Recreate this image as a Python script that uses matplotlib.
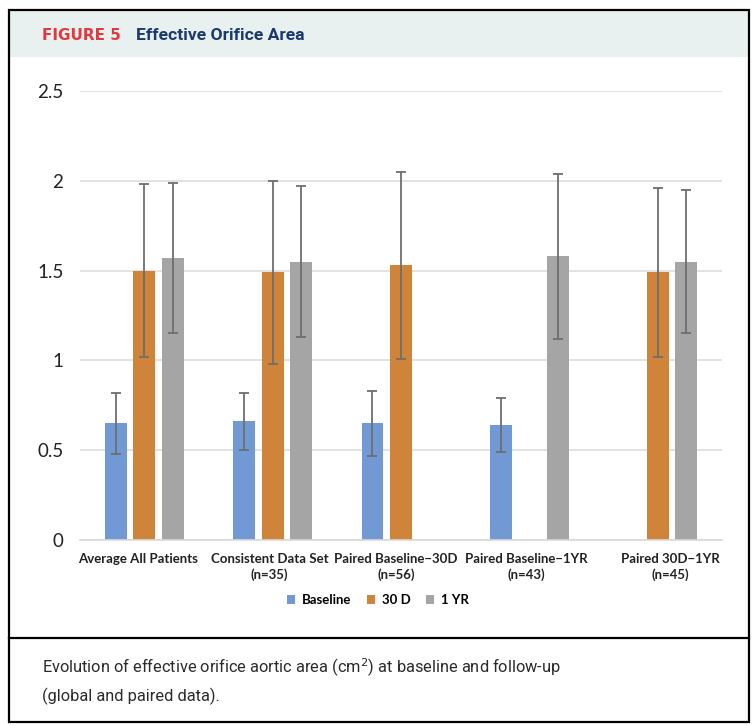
import numpy as np
import matplotlib.pyplot as plt
import matplotlib.transforms as mtransforms
from matplotlib.patches import Rectangle
from matplotlib.lines import Line2D

# Data
groups = ['Average All Patients', 'Consistent Data Set\n(n=35)', 'Paired Baseline\u221230D\n(n=56)',
          'Paired Baseline\u22121YR\n(n=43)', 'Paired 30D\u22121YR\n(n=45)']
series = ['Baseline', '30 D', '1 YR']
baseline = [0.65, 0.66, 0.65, 0.64, np.nan]
baseline_lo = [0.48, 0.50, 0.47, 0.49, np.nan]
baseline_hi = [0.82, 0.82, 0.83, 0.79, np.nan]
d30 = [1.50, 1.49, 1.53, np.nan, 1.49]
d30_lo = [1.02, 0.98, 1.01, np.nan, 1.02]
d30_hi = [1.98, 2.00, 2.05, np.nan, 1.96]
yr1 = [1.57, 1.55, np.nan, 1.58, 1.55]
yr1_lo = [1.15, 1.13, np.nan, 1.12, 1.15]
yr1_hi = [1.99, 1.97, np.nan, 2.04, 1.95]
yticks = [0, 0.5, 1, 1.5, 2, 2.5]
ytick_labels = ['0', '0.5', '1', '1.5', '2', '2.5']

colors = ['#7199D3', '#D0843A', '#A5A5A5']
label_shift_px = [-6, -3, -5, -3, 13]  # small nudges of the category labels, as in the original

W, H = 756, 726
fig = plt.figure(figsize=(W / 100, H / 100), dpi=100)

# frame, header band, caption separator
fig.patches.append(Rectangle((9 / W, 1 - 57 / H), 740 / W, 47 / H, transform=fig.transFigure,
                             facecolor='#E8F1F0', edgecolor='none', zorder=0))
fig.patches.append(Rectangle((9 / W, 1 - 722 / H), 740 / W, 712 / H, transform=fig.transFigure,
                             facecolor='none', edgecolor='black', linewidth=1.6, zorder=5))
fig.lines.append(Line2D([9 / W, 749 / W], [1 - 638 / H, 1 - 638 / H], transform=fig.transFigure,
                        color='black', linewidth=1.6))

fig.text(42 / W, 1 - 35 / H, 'FIGURE 5', color='#E0393E', fontsize=11, fontweight='bold',
         va='center', ha='left', family='DejaVu Sans')
fig.text(136 / W, 1 - 35 / H, 'Effective Orifice Area', color='#1C3A6B', fontsize=12.6,
         fontweight='bold', va='center', ha='left', family='Roboto')

fig.text(42 / W, 1 - 668 / H, 'Evolution of effective orifice aortic area (cm$^2$) at baseline and follow-up',
         fontsize=11.8, va='center', ha='left', family='Roboto', color='#2A2A2A')
fig.text(42 / W, 1 - 696 / H, '(global and paired data).',
         fontsize=11.8, va='center', ha='left', family='Roboto', color='#2A2A2A')

# chart
ax = fig.add_axes([80 / W, 1 - 540 / H, 642 / W, 449 / H])
x = np.arange(len(groups))
width = 0.171
step = 0.222
vals = [baseline, d30, yr1]
los = [baseline_lo, d30_lo, yr1_lo]
his = [baseline_hi, d30_hi, yr1_hi]
for i, (v, lo, hi) in enumerate(zip(vals, los, his)):
    v = np.array(v)
    err = [v - np.array(lo), np.array(hi) - v]
    ax.bar(x + (i - 1) * step, v, width, color=colors[i], label=series[i], zorder=2,
           yerr=err, error_kw=dict(ecolor='#6E6E6E', elinewidth=1.3, capsize=3.5, capthick=1.3, zorder=3))

ax.set_xlim(-0.5, len(groups) - 0.5)
ax.set_ylim(0, 2.5)
ax.set_yticks(yticks)
ax.set_yticklabels(ytick_labels, fontsize=13.5, family='Lato')
ax.set_xticks(x)
ax.set_xticklabels(groups, fontsize=9.5, family='Lato', fontweight='bold', linespacing=1.3)
ax.tick_params(axis='both', length=0, colors='#222222')
ax.tick_params(axis='y', pad=12)
ax.tick_params(axis='x', pad=9.5)
for lab, dx in zip(ax.get_xticklabels(), label_shift_px):
    lab.set_transform(lab.get_transform() + mtransforms.ScaledTranslation(dx / 100, 0, fig.dpi_scale_trans))
ax.yaxis.grid(True, color='#DDDDDD', linewidth=1.2, zorder=0)
ax.set_axisbelow(True)
for s in ['top', 'right', 'left']:
    ax.spines[s].set_visible(False)
ax.spines['bottom'].set_color('#D9D9D9')
ax.spines['bottom'].set_linewidth(1.2)

leg = ax.legend(loc='center', bbox_to_anchor=(378 / W, 1 - 600 / H), bbox_transform=fig.transFigure,
                ncol=3, frameon=False, handlelength=0.6, handleheight=0.6, columnspacing=1.2,
                handletextpad=0.5, prop=dict(family='Lato', weight='bold', size=9.5))

fig.savefig('out.png', dpi=100)
